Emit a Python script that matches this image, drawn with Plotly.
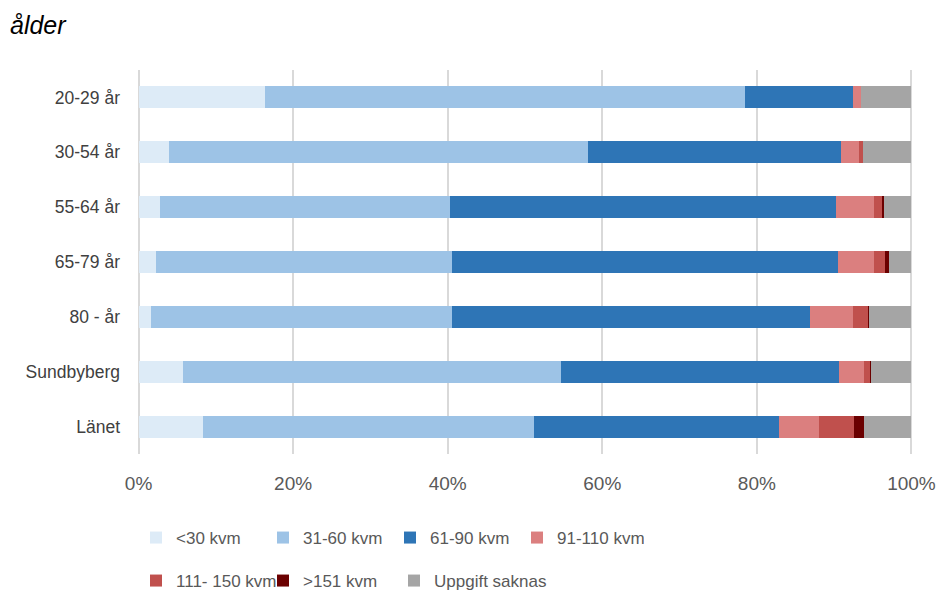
import plotly.graph_objects as go

categories = ["20-29 år", "30-54 år", "55-64 år", "65-79 år", "80 - år", "Sundbyberg", "Länet"]
series_names = ["<30 kvm", "31-60 kvm", "61-90 kvm", "91-110 kvm", "111- 150 kvm", ">151 kvm", "Uppgift saknas"]

v_lt30 = [16.4, 4.0, 2.8, 2.2, 1.6, 5.8, 8.4]
v_31_60 = [62.0, 54.2, 37.5, 38.4, 39.0, 48.9, 42.8]
v_61_90 = [14.1, 32.7, 49.9, 49.9, 46.3, 35.9, 31.7]
v_91_110 = [1.0, 2.3, 4.9, 4.6, 5.6, 3.2, 5.2]
v_111_150 = [0.0, 0.5, 1.1, 1.5, 1.9, 0.9, 4.5]
v_gt151 = [0.0, 0.0, 0.3, 0.5, 0.1, 0.1, 1.3]
v_saknas = [6.5, 6.3, 3.5, 2.9, 5.5, 5.2, 6.1]

tick_vals = [0, 20, 40, 60, 80, 100]
tick_text = ["0%", "20%", "40%", "60%", "80%", "100%"]

colors = ["#DDEBF7", "#9DC3E6", "#2E75B6", "#DB7F7F", "#C0504D", "#6B0000", "#A5A5A5"]
values = [v_lt30, v_31_60, v_61_90, v_91_110, v_111_150, v_gt151, v_saknas]
legend_ids = ["legend", "legend", "legend", "legend", "legend2", "legend2", "legend3"]

fig = go.Figure()
for name, vals, col, lg in zip(series_names, values, colors, legend_ids):
    fig.add_trace(go.Bar(
        y=categories, x=vals, name=name, orientation="h",
        marker=dict(color=col, line=dict(width=0)),
        legend=lg,
    ))

legend_font = dict(family="Liberation Sans, Arial, sans-serif", size=17, color="#595959")

def leg(x_px, y_px, ew=82):
    return dict(orientation="h", xref="container", yref="container", traceorder="normal",
                x=x_px/941, xanchor="left", y=1 - y_px/593, yanchor="middle",
                entrywidth=ew, entrywidthmode="pixels", font=legend_font,
                itemwidth=30, bgcolor="rgba(0,0,0,0)")

fig.update_layout(
    width=941, height=593,
    barmode="stack",
    bargap=0.6,
    plot_bgcolor="white", paper_bgcolor="white",
    margin=dict(l=137, r=28, t=70, b=139, autoexpand=False),
    title=dict(text="<i>ålder</i>", x=10/941, xanchor="left", xref="container",
               y=1 - 25/593, yref="container", yanchor="middle",
               font=dict(family="Liberation Sans, Arial, sans-serif", size=25, color="#000000")),
    xaxis=dict(range=[-0.2, 100.2], tickvals=tick_vals, ticktext=tick_text,
               showgrid=True, gridcolor="#D9D9D9", gridwidth=2, zeroline=False,
               showline=False, ticks="", ticklabelstandoff=16, automargin=False,
               tickfont=dict(family="Liberation Sans, Arial, sans-serif", size=19, color="#595959")),
    yaxis=dict(autorange="reversed", showgrid=False, zeroline=False, showline=False,
               ticks="", ticklabelstandoff=16, automargin=False,
               tickfont=dict(family="Liberation Sans, Arial, sans-serif", size=17.5, color="#404040")),
    legend=leg(136, 538),
    legend2=leg(136, 581),
    legend3=leg(394, 581, ew=140),
    showlegend=True,
)

fig.write_html("out.html", config={"displayModeBar": False},
               post_script="document.body.style.margin='0';")
